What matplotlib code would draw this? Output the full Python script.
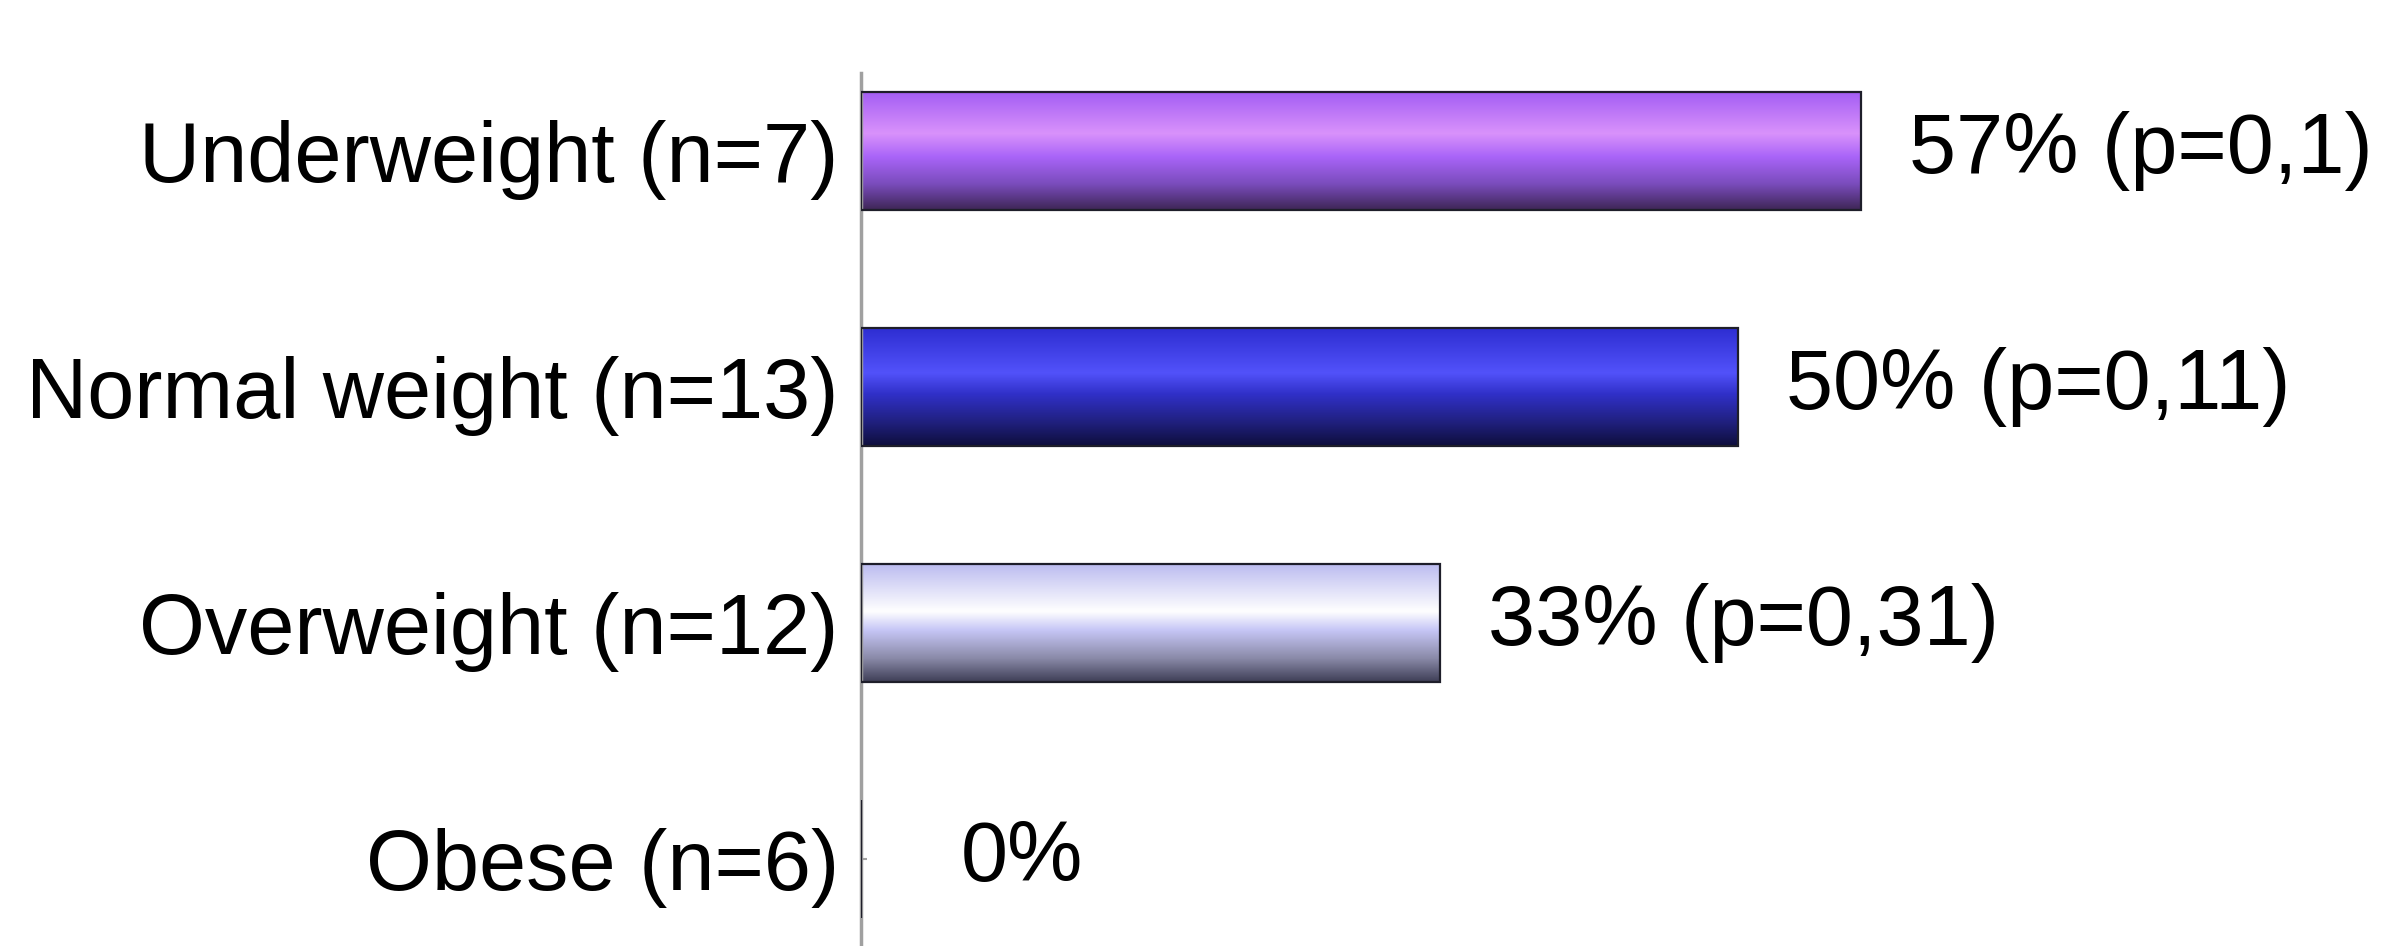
import numpy as np
import matplotlib
matplotlib.use("Agg")
import matplotlib.pyplot as plt
from matplotlib.colors import LinearSegmentedColormap

plt.rcParams["font.family"] = ["Liberation Sans", "DejaVu Sans"]

categories = ["Underweight (n=7)", "Normal weight (n=13)", "Overweight (n=12)", "Obese (n=6)"]
values = [57, 50, 33, 0]
labels = ["57% (p=0,1)", "50% (p=0,11)", "33% (p=0,31)", "0%"]

# vertical gradient stops per bar (top -> bottom)
gradients = [
    [(0.0, "#a45ef4"), (0.35, "#d992fb"), (0.55, "#a964f8"), (0.78, "#7a4cbc"), (1.0, "#3e2656")],
    [(0.0, "#2e2ed2"), (0.38, "#5252fa"), (0.56, "#3030c8"), (0.8, "#20207e"), (1.0, "#0e0e3c")],
    [(0.0, "#bcbcf0"), (0.4, "#ffffff"), (0.56, "#c6c6f6"), (0.8, "#8a8aa8"), (1.0, "#3e3e56")],
]

W, H, DPI = 2384, 946, 100
fig = plt.figure(figsize=(W / DPI, H / DPI), dpi=DPI)
ax = fig.add_axes([861 / W, 0.0, 1 - 861 / W, 1 - 73 / H])

y = np.arange(len(categories))
bars = ax.barh(y, values, height=0.5, color="none", edgecolor="#1e1e2a", linewidth=1.6, zorder=3)

ax.set_xlim(0, 86.8)
ax.set_ylim(3.37, -0.33)

grad = np.linspace(0, 1, 256).reshape(-1, 1)
for bar, stops in zip(bars, gradients):
    cmap = LinearSegmentedColormap.from_list("g", stops)
    x0, y0 = bar.get_x(), bar.get_y()
    w, h = bar.get_width(), bar.get_height()
    im = ax.imshow(grad, cmap=cmap, aspect="auto", extent=(x0, x0 + w, y0 + h, y0),
                   interpolation="bicubic", zorder=2)
    im.set_clip_path(bar)

for yi, v, lab in zip(y, values, labels):
    off = 48 if v > 0 else 100
    ax.annotate(lab, (v, yi), xytext=(off, 0), textcoords="offset pixels",
                ha="left", va="center", fontsize=61, color="black")

ax.set_yticks(y)
ax.set_yticklabels(categories, fontsize=61)
ax.tick_params(axis="y", direction="in", length=4, width=1.5, color="#a0a0a0", pad=16)
ax.set_xticks([])
for s in ["top", "right", "bottom"]:
    ax.spines[s].set_visible(False)
ax.spines["left"].set_color("#a0a0a0")
ax.spines["left"].set_linewidth(2.5)

fig.savefig("out.png", dpi=DPI)
